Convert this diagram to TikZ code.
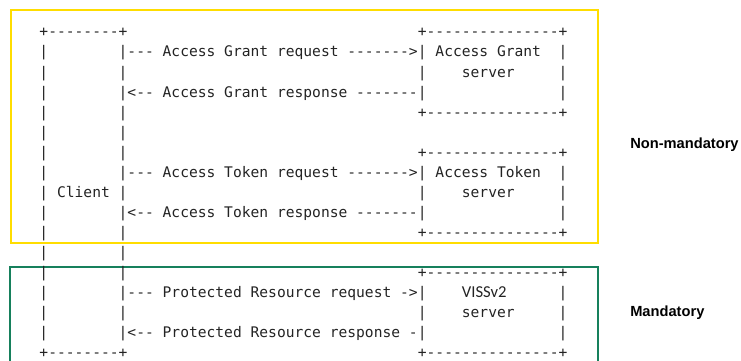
\documentclass[tikz,border=0pt]{standalone}
\usepackage{fontspec}
\setmonofont{DejaVu Sans Mono}
\newfontfamily\labelfont{Liberation Sans}
\newfontfamily\calibrifont{Carlito}
\usetikzlibrary{positioning}
\definecolor{sunny}{RGB}{255,221,0}
\definecolor{pine}{RGB}{22,128,92}
\definecolor{ink}{RGB}{35,35,35}
\tikzset{
  ascii/.style={font=\ttfamily\fontsize{10.96}{13}\selectfont,text=ink,inner sep=0pt,anchor=base west},
  zone/.style={draw=#1,line width=1.5pt},
  zone/.default=sunny,
  tag/.style={font=\labelfont\bfseries\fontsize{11}{13}\selectfont,inner sep=0pt,anchor=west},
}

\begin{document}
\begin{tikzpicture}[x=0.75pt,y=-0.75pt]
  \useasboundingbox (0,0) rectangle (741,360);
  \draw[zone=sunny] (11,10) rectangle (598,243);
  \draw[zone=pine] (10,361) -- (10,267) -- (598,267) -- (598,361);
  \node[tag] (opt) at (630,145) {Non-mandatory};
  \node[tag] (must) at (630,313) {Mandatory};
  \begin{scope}[shift={(39.2,37)},x=6.6pt,y=-15pt]
    % client box
    \node[ascii] (ctop) at (0,0) {+--------+};
    \node[ascii] (cbot) at (0,16) {+--------+};
    \foreach \r in {1,...,15} {
      \node[ascii] (cl\r) at (0,\r) {|};
      \node[ascii] (cr\r) at (9,\r) {|};
    }
    \node[ascii] (client) at (2,8) {Client};
    % server boxes
    \foreach \r/\n in {0/ag,6/at,12/vs} {
      \node[ascii] (\n top) at (43,\r) {+---------------+};
      \node[ascii] (\n bot) at (43,\r+4) {+---------------+};
      \foreach \k in {1,2,3} {
        \node[ascii] (\n l\k) at (43,\r+\k) {|};
        \node[ascii] (\n r\k) at (59,\r+\k) {|};
      }
    }
    \node[ascii] (agname) at (45,1) {Access Grant};
    \node[ascii] (agsrv) at (48,2) {server};
    \node[ascii] (atname) at (45,7) {Access Token};
    \node[ascii] (atsrv) at (48,8) {server};
    \node[ascii,font=\calibrifont\fontsize{12.5}{14}\selectfont] (vsname) at (48,13) {VISSv2};
    \node[ascii] (vssrv) at (48,14) {server};
    % messages
    \foreach \r/\m [count=\i] in {1/--- Access Grant request ------->,3/<-- Access Grant response -------,
      7/--- Access Token request ------->,9/<-- Access Token response -------,
      13/--- Protected Resource request ->,15/<-- Protected Resource response -}
      \node[ascii] (msg\i) at (10,\r) {\m};
  \end{scope}
\end{tikzpicture}
\end{document}
